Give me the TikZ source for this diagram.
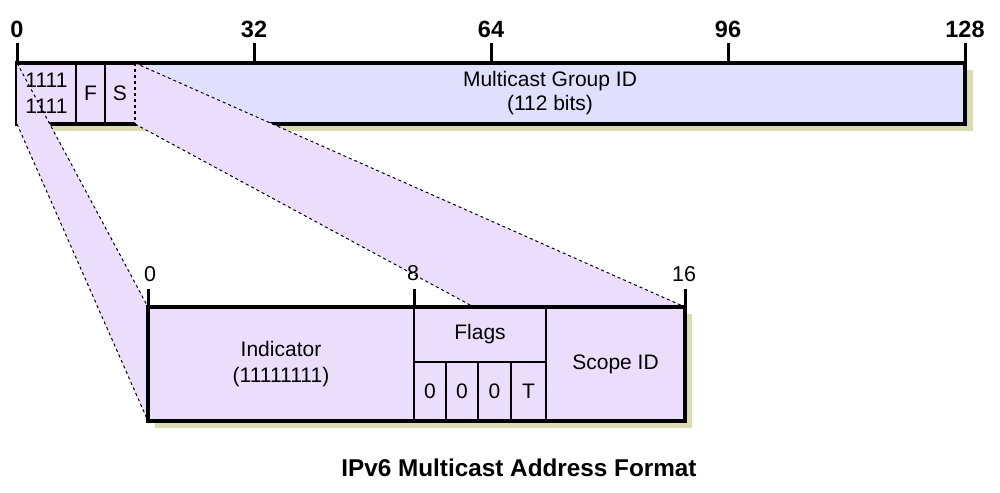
\documentclass[tikz,border=0pt]{standalone}
\usepackage{fontspec}
\setmainfont{Liberation Sans}
\usetikzlibrary{calc}
\definecolor{bluefill}{RGB}{224,224,254}
\definecolor{purp}{RGB}{234,222,252}
\definecolor{shadowc}{RGB}{220,220,178}
\pgfdeclarelayer{bg}
\pgfdeclarelayer{band}
\pgfsetlayers{bg,band,main}
\begin{document}
\begin{tikzpicture}[x=1pt,y=-1pt,
  fieldbox/.style={rectangle, inner sep=0pt, outer sep=0pt, anchor=north west, align=center, font=\fontsize{21}{25}\selectfont},
  boxline/.style={line width=3.5pt},
  divline/.style={line width=2pt},
  tickline/.style={line width=3pt},
  boldlab/.style={font=\fontsize{23.5}{26}\selectfont\bfseries, inner sep=0pt},
  plainlab/.style={font=\fontsize{21.5}{24}\selectfont, inner sep=0pt},
  bandedge/.style={line width=1pt, dash pattern=on 3pt off 3pt},
]
\useasboundingbox (0,0) rectangle (1000,492);

% top address fields (text only; fills on background layer)
\node[fieldbox, minimum width=59pt, minimum height=61pt, font=\fontsize{21}{26}\selectfont] (ind) at (17,63) {1111\\1111};
\node[fieldbox, minimum width=29pt, minimum height=61pt] (flg) at (76,63) {F};
\node[fieldbox, minimum width=30pt, minimum height=61pt] (scp) at (105,63) {S};
\node[fieldbox, minimum width=830pt, minimum height=61pt, font=\fontsize{21}{24}\selectfont] (gid) at (135,63) {Multicast Group ID\\(112 bits)};

% expanded 16-bit fields
\node[fieldbox, fill=purp, minimum width=266pt, minimum height=114pt, font=\fontsize{21}{26}\selectfont] (indb) at (148,307) {Indicator\\(11111111)};
\node[fieldbox, fill=purp, minimum width=132pt, minimum height=55pt] (flags) at (414,307) {Flags};
\node[fieldbox, fill=purp, minimum width=32pt, minimum height=59pt] (f1) at (414,362) {0};
\node[fieldbox, fill=purp, minimum width=32pt, minimum height=59pt] (f2) at (446,362) {0};
\node[fieldbox, fill=purp, minimum width=33pt, minimum height=59pt] (f3) at (478,362) {0};
\node[fieldbox, fill=purp, minimum width=35pt, minimum height=59pt] (f4) at (511,362) {T};
\node[fieldbox, fill=purp, minimum width=139pt, minimum height=114pt] (scopeb) at (546,307) {Scope ID};

\begin{pgfonlayer}{bg}
  \fill[shadowc] ($(ind.north west)+(8,7)$) rectangle ($(gid.south east)+(8,7)$);
  \fill[shadowc] ($(indb.north west)+(7,7)$) rectangle ($(scopeb.south east)+(7,7)$);
  \fill[purp] (ind.north west) rectangle (scp.south east);
  \fill[bluefill] (gid.north west) rectangle (gid.south east);
  \draw[divline] (ind.north east) -- (ind.south east);
  \draw[divline] (flg.north east) -- (flg.south east);
  \draw[boxline] (ind.north west) rectangle (gid.south east);
\end{pgfonlayer}

\begin{pgfonlayer}{band}
  \fill[purp] (ind.north west) -- (indb.north west) -- (indb.south west) -- (ind.south west) -- cycle;
  \fill[purp] (scp.north east) -- (scopeb.north east) -- (scopeb.south east) -- (scp.south east) -- cycle;
  \draw[bandedge] (ind.north west) -- (indb.north west);
  \draw[bandedge] (ind.south west) -- (indb.south west);
  \draw[bandedge] (scp.north east) -- (scopeb.north east);
  \draw[bandedge] (scp.south east) -- (scopeb.south east);
  \draw[bandedge, line width=1.6pt] (scp.north east) -- (scp.south east);
\end{pgfonlayer}

% lines of the expanded box
\draw[divline] (flags.south west) -- (flags.south east);
\draw[divline] (f1.north east) -- (f1.south east);
\draw[divline] (f2.north east) -- (f2.south east);
\draw[divline] (f3.north east) -- (f3.south east);
\draw[divline] (indb.north east) -- (indb.south east);
\draw[divline] (flags.north east) -- (f4.south east);
\draw[boxline] (indb.north west) rectangle (scopeb.south east);

% bottom ticks and labels
\draw[tickline] (indb.north west) -- ++(0,-18);
\draw[tickline] (indb.north east) -- ++(0,-18);
\draw[tickline] (scopeb.north east) -- ++(0,-18);
\node[plainlab] (bl0) at ($(indb.north west)+(2,-33)$) {0};
\node[plainlab] (bl8) at ($(indb.north east)+(-1,-34)$) {8};
\node[plainlab] (bl16) at ($(scopeb.north east)+(-1,-33)$) {16};

% top ticks and labels
\foreach \k/\lab in {0/0,1/32,2/64,3/96,4/128} {
  \coordinate (tt\k) at ($(ind.north west)!\k/4!(gid.north east)$);
  \draw[tickline] (tt\k) -- ++(0,-20);
  \node[boldlab] (tl\k) at ($(tt\k)+(0,-34)$) {\lab};
}

\node[boldlab, font=\fontsize{24.3}{27}\selectfont\bfseries] (title) at (519,468) {IPv6 Multicast Address Format};
\end{tikzpicture}
\end{document}
